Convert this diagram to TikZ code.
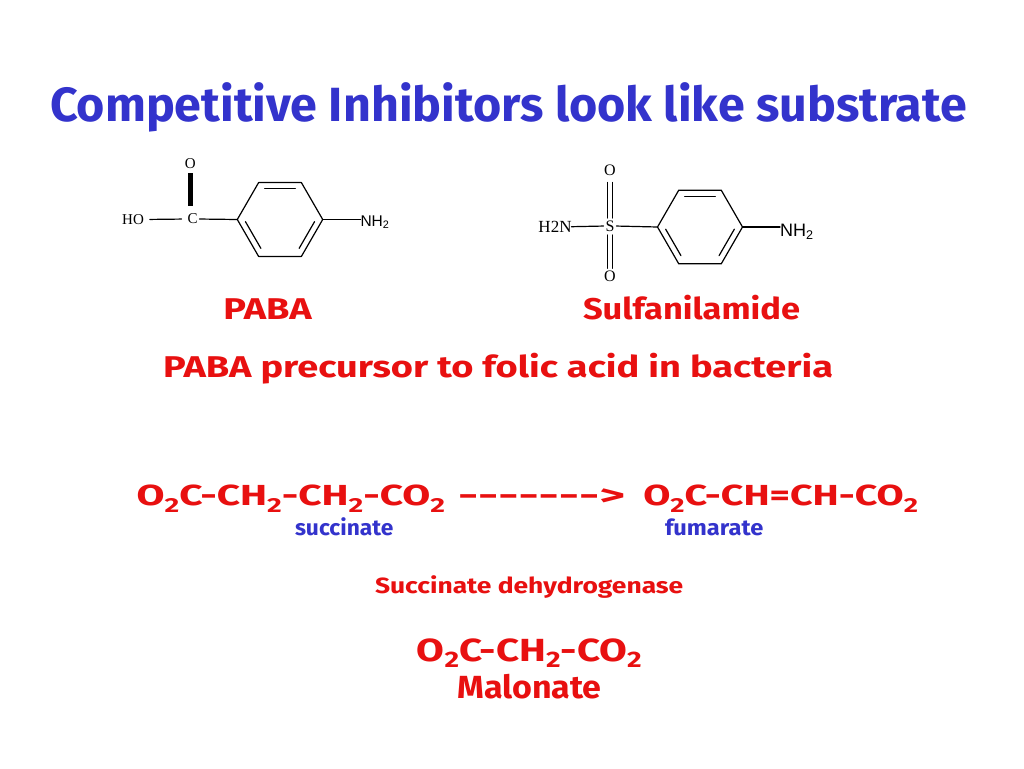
\documentclass[tikz,border=0pt]{standalone}
\usepackage{fontspec}
\setmainfont{Fira Sans}
\newfontfamily\serifchem{Liberation Serif}
\newfontfamily\sanschem{Liberation Sans}
\usetikzlibrary{calc}
\definecolor{tred}{RGB}{232,16,16}
\definecolor{tblue}{RGB}{51,51,204}
\newcommand\fitw[2]{\resizebox{#1}{\height}{#2}}
\newcommand\fsz[1]{\fontsize{#1}{#1}\selectfont}
\newcommand\lsub[1]{\raisebox{-0.26em}{\scalebox{0.7}{#1}}}
\newcommand\msub[1]{\raisebox{-0.18em}{\scalebox{0.7}{#1}}}
\begin{document}
\begin{tikzpicture}[x=1pt,y=-1pt,
  txt/.style={anchor=base west, inner sep=0pt, outer sep=0pt},
  bond/.style={line width=1.2pt, line cap=round, line join=round},
  atom/.style={inner sep=0pt, outer sep=0pt}]
\fill[white] (0,0) rectangle (1024,768);
\useasboundingbox (0,0) rectangle (1024,768);

% ---- title
\node[txt, text=tblue] (title) at (50,121.7)
  {\fsz{48}\bfseries\fitw{917pt}{Competitive Inhibitors look like substrate}};

% ---- PABA structure
\node[atom] (hoA) at (133,219.5) {\serifchem\fsz{15}HO};
\node[atom] (cA) at (192.5,219) {\serifchem\fsz{15}C};
\node[atom] (oA) at (190.3,163.3) {\serifchem\fsz{15}O};
\node[txt] (nA) at (360.5,226) {\sanschem\fsz{15.5}NH\textsubscript{2}};
\coordinate (ac) at (280,219.5);
\foreach \i/\a in {1/0,2/60,3/120,4/180,5/240,6/300}{
  \coordinate (a\i) at ($(ac)+(\a:42.7)$);
  \coordinate (ai\i) at ($(ac)+(\a:35.8)$);
}
\draw[bond] (a1)--(a2)--(a3)--(a4)--(a5)--(a6)--cycle;
\draw[bond, shorten <=2.5pt, shorten >=2.5pt] (ai1)--(ai2);
\draw[bond, shorten <=2.5pt, shorten >=2.5pt] (ai3)--(ai4);
\draw[bond, shorten <=2.5pt, shorten >=2.5pt] (ai5)--(ai6);
\draw[bond, shorten <=6pt, shorten >=6pt] (hoA.east) -- (cA.west);
\draw[bond, shorten <=2pt] (cA.east) -- (a4);
\draw[line width=5pt, shorten <=5pt, shorten >=8pt] (oA.south) -- (oA.south |- cA.north);
\draw[bond] (a1) -- (nA.west |- a1);

% ---- Sulfanilamide structure
\node[atom] (hn) at (555,226.7) {\serifchem\fsz{17}H2N};
\node[atom] (sS) at (610,226) {\serifchem\fsz{16}S};
\node[atom] (o1) at (610,170) {\serifchem\fsz{16}O};
\node[atom] (o2) at (610,276.7) {\serifchem\fsz{16}O};
\node[txt] (nB) at (780,236.5) {\sanschem\fsz{18}NH\textsubscript{2}};
\coordinate (bc) at (700,227);
\foreach \i/\a in {1/0,2/60,3/120,4/180,5/240,6/300}{
  \coordinate (b\i) at ($(bc)+(\a:42.5)$);
  \coordinate (bi\i) at ($(bc)+(\a:35.6)$);
}
\draw[bond] (b1)--(b2)--(b3)--(b4)--(b5)--(b6)--cycle;
\draw[bond, shorten <=2.5pt, shorten >=2.5pt] (bi1)--(bi2);
\draw[bond, shorten <=2.5pt, shorten >=2.5pt] (bi3)--(bi4);
\draw[bond, shorten <=2.5pt, shorten >=2.5pt] (bi5)--(bi6);
\draw[bond, shorten >=2pt] (hn.east) -- (sS.west);
\draw[bond, shorten <=2pt] (sS.east) -- (b4);
\draw[bond, shorten <=7pt, shorten >=2.5pt] ([xshift=-2.2pt]o1.south) -- ([xshift=-2.2pt]sS.north);
\draw[bond, shorten <=7pt, shorten >=2.5pt] ([xshift=2.2pt]o1.south) -- ([xshift=2.2pt]sS.north);
\draw[bond, shorten <=3.5pt, shorten >=3pt] ([xshift=-2.2pt]sS.south) -- ([xshift=-2.2pt]o2.north);
\draw[bond, shorten <=3.5pt, shorten >=3pt] ([xshift=2.2pt]sS.south) -- ([xshift=2.2pt]o2.north);
\draw[bond] (b1) -- (nB.west |- b1);

% ---- red/blue labels
\node[txt, text=tred] (paba) at (223.3,319.3) {\fsz{30}\bfseries\fitw{88.4pt}{PABA}};
\node[txt, text=tred] (sulfa) at (583,319.3) {\fsz{30}\bfseries\fitw{217pt}{Sulfanilamide}};
\node[txt, text=tred] (prec) at (163,377.7)
  {\fsz{30}\bfseries\fitw{670pt}{PABA precursor to folic acid in bacteria}};

\node[txt, text=tred] (eqL) at (136.7,505)
  {\fsz{29}\bfseries\fitw{308.3pt}{O\lsub{2}C-CH\lsub{2}-CH\lsub{2}-CO\lsub{2}}};
\node[txt, text=tred] (dash) at (458,505)
  {\fsz{29}\bfseries\fitw{167pt}{-{}-{}-{}-{}-{}-{}->}};
\node[txt, text=tred] (eqR) at (643.3,505)
  {\fsz{29}\bfseries\fitw{274.7pt}{O\lsub{2}C-CH=CH-CO\lsub{2}}};

\node[txt, text=tblue] (succ) at (295,535) {\fsz{22}\bfseries\fitw{98.3pt}{succinate}};
\node[txt, text=tblue] (fuma) at (665,535) {\fsz{22}\bfseries\fitw{98.3pt}{fumarate}};

\node[txt, text=tred] (sdh) at (375,593) {\fsz{22}\bfseries\fitw{308.3pt}{Succinate dehydrogenase}};
\node[txt, text=tred] (malf) at (416.7,661.7)
  {\fsz{32}\bfseries\fitw{225pt}{O\msub{2}C-CH\msub{2}-CO\msub{2}}};
\node[txt, text=tred] (mal) at (457.3,698) {\fsz{32}\bfseries\fitw{144.4pt}{Malonate}};
\end{tikzpicture}
\end{document}
